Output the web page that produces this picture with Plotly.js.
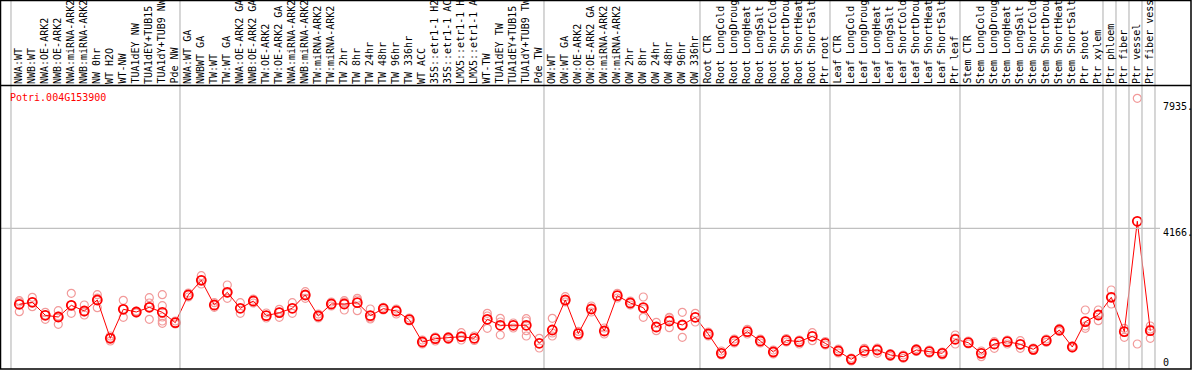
<!DOCTYPE html>
<html>
<head>
<meta charset="utf-8">
<script src="https://cdn.plot.ly/plotly-3.0.1.min.js"></script>
<style>html,body{margin:0;padding:0;background:#fff;}#chart{width:1194px;height:370px;}</style>
</head>
<body>
<div id="chart"></div>
<script>
var geneName = "Potri.004G153900";
var categories = [
 "NWA:WT","NWB:WT","NWA:OE-ARK2","NWB:OE-ARK2","NWA:miRNA-ARK2","NWB:miRNA-ARK2","NW 0hr","WT H2O","WT-NW","TUA1dEY NW","TUA1dEY+TUB15 NW","TUA1dY+TUB9 NW","Pde NW",
 "NWA:WT GA","NWBWT GA","TW:WT","TW:WT GA","NWA:OE-ARK2 GA","NWB:OE-ARK2 GA","TW:OE-ARK2","TW:OE-ARK2 GA","NWA:miRNA-ARK2","NWB:miRNA-ARK2","TW:miRNA-ARK2","TW:miRNA-ARK2 GA","TW 2hr","TW 8hr","TW 24hr","TW 48hr","TW 96hr","TW 336hr","WT ACC","35S::etr1-1 H2O","35S::etr1-1 ACC","LMX5::etr1-1 H2O","LMX5::etr1-1 ACC","WT-TW","TUA1dEY TW","TUA1dEY+TUB15 TW","TUA1dY+TUB9 TW","Pde TW",
 "OW:WT","OW:WT GA","OW:OE-ARK2","OW:OE-ARK2 GA","OW:miRNA-ARK2","OW:miRNA-ARK2 GA","OW 2hr","OW 8hr","OW 24hr","OW 48hr","OW 96hr","OW 336hr",
 "Root CTR","Root LongCold","Root LongDrought","Root LongHeat","Root LongSalt","Root ShortCold","Root ShortDrought","Root ShortHeat","Root ShortSalt","Ptr root",
 "Leaf CTR","Leaf LongCold","Leaf LongDrought","Leaf LongHeat","Leaf LongSalt","Leaf ShortCold","Leaf ShortDrought","Leaf ShortHeat","Leaf ShortSalt","Ptr leaf",
 "Stem CTR","Stem LongCold","Stem LongDrought","Stem LongHeat","Stem LongSalt","Stem ShortCold","Stem ShortDrought","Stem ShortHeat","Stem ShortSalt","Ptr shoot","Ptr xylem",
 "Ptr phloem","Ptr fiber","Ptr vessel","Ptr fiber vessel"
];
var groupSizes = [13, 28, 12, 10, 10, 11, 1, 1, 1, 1];
var meanValues = [
 1963,2021,1644,1595,1934,1769,2088,977,1818,1740,1876,1731,1430,
 2233,2659,1943,2311,1847,2059,1633,1720,1847,2233,1624,1972,1972,2010,1633,1836,1769,1517,870,966,986,1024,977,1528,1354,1354,1354,832,
 1218,2088,1111,1827,1189,2213,2001,1865,1305,1479,1363,1586,
 1102,542,899,1169,899,580,919,879,1035,832,
 609,368,618,638,493,444,638,589,542,948,
 850,542,812,879,803,658,908,1218,725,1459,1653,
 2166,1169,4370,1198
];
var replicateValues = [
 [2068,1749,2030],[2166,1894,2030],[1731,1528,1653],[1778,1383,1624],[2282,1702,1943],[1943,1653,1740],[2242,1865,2146],[899,986,1044],[2079,1586,1827],[1769,1711,1740],[2155,1528,2001,1885],[2242,1923,1479,1412,1595],[1479,1392],
 [2291,2175],[2793,2552,2668],[2010,1876],[2523,2137,2291],[2010,1702],[2117,2001],[1711,1566],[1818,1586,1740],[2010,1702],[2329,2137,2233],[1682,1566],[2030,1914],[2068,1798,2030],[2137,1778,2088],[1827,1537,1566],[1876,1798],[1827,1682],[1566,1479],[928,812],[1015,899],[1030,943],[1140,928,1015],[1044,914],[1702,1267,1624],[1557,1073,1450],[1421,1276],[1546,1479,1198,1044],[977,696],
 [1557,1044,1131],[2184,2030],[1175,1044],[1914,1740],[1276,1102],[2282,2146],[2059,1943],[2175,1586,1827],[1441,1198],[1586,1285,1566],[1731,1006,1363],[1702,1450],
 [1160,1044],[609,493],[957,841],[1238,1102],[957,841],[638,522],[972,870],[928,812],[1140,908],[885,783],
 [667,551],[406,319],[687,542],[696,542],[537,450],[493,397],[682,595],[638,542],[580,493],[1073,812,986],
 [899,812],[609,444],[879,687],[928,812],[908,687],[696,624],[957,861],[1262,1175],[754,696],[1798,1267,1334],[1798,1488,1682],
 [2378,1972,2175],[1267,1006],[7935,812],[1334,977,1247]
];
var scaleLabels = ["7935.", "4166.", "0"];
var scaleValues = [7935, 4166, 0];
var maxLabelChars = 14;

var W = 1194, H = 370;
var x0px = 19.3, step = 13;
var xr = [-x0px/step, (W - x0px)/step];
var yZero = 372, yScale = 0.03449;
var yr = [(yZero - H)/yScale, yZero/yScale];
function py(p){ return 1 - p/H; }
function px(p){ return p/W; }

var idx = categories.map(function(_, i){ return i; });
var repX = [], repY = [];
replicateValues.forEach(function(arr, i){ arr.forEach(function(v){ repX.push(i); repY.push(v); }); });

var traces = [
 {x: repX, y: repY, type: 'scatter', mode: 'markers', hoverinfo: 'skip',
  marker: {symbol: 'circle-open', size: 8, color: '#f29a9a', line: {width: 1.2, color: '#f29a9a'}}},
 {x: idx, y: meanValues, type: 'scatter', mode: 'lines+markers',
  line: {color: '#ff0000', width: 1},
  marker: {symbol: 'circle-open', size: 9, color: '#ff0000', line: {width: 1.8, color: '#ff0000'}}}
];

var shapes = [];
var b = 0;
var bounds = [0];
groupSizes.forEach(function(g){ b += g; bounds.push(b); });
bounds.forEach(function(k){
  shapes.push({type: 'line', xref: 'x', yref: 'paper', x0: k - 0.64, x1: k - 0.64, y0: py(369), y1: 1,
    line: {color: '#c0c0c0', width: 1.3}});
});
shapes.push({type: 'line', xref: 'paper', yref: 'y', x0: 0, x1: px(1160), y0: scaleValues[1], y1: scaleValues[1],
  line: {color: '#c0c0c0', width: 1.3}});
shapes.push({type: 'rect', xref: 'paper', yref: 'paper', x0: px(0.5), x1: px(1191), y0: py(369), y1: py(0.5),
  line: {color: '#000', width: 1.5}});
shapes.push({type: 'line', xref: 'paper', yref: 'paper', x0: 0, x1: px(1191), y0: py(85.5), y1: py(85.5),
  line: {color: '#000', width: 1.5}});

var annotations = categories.map(function(c, i){
  return {x: i - 0.1, xref: 'x', y: py(85), yref: 'paper', text: c.slice(0, maxLabelChars), textangle: -90,
    xanchor: 'center', yanchor: 'bottom', showarrow: false, borderpad: 0,
    font: {family: 'DejaVu Sans Mono', size: 10, color: '#000'}};
});
annotations.push({x: px(9), xref: 'paper', y: py(97), yref: 'paper', text: geneName, xanchor: 'left', yanchor: 'middle',
  showarrow: false, borderpad: 0, font: {family: 'DejaVu Sans Mono', size: 10, color: '#ff0000'}});
var labelY = [107, 232, 362];
scaleLabels.forEach(function(t, k){
  annotations.push({x: px(1162), xref: 'paper', y: py(labelY[k]), yref: 'paper', text: t, xanchor: 'left', yanchor: 'middle',
    showarrow: false, borderpad: 0, font: {family: 'DejaVu Sans Mono', size: 10, color: '#000'}});
});

var layout = {
  width: W, height: H,
  margin: {l: 0, r: 0, t: 0, b: 0},
  paper_bgcolor: '#fff', plot_bgcolor: '#fff',
  showlegend: false,
  xaxis: {range: xr, showgrid: false, zeroline: false, showticklabels: false, ticks: '', showline: false},
  yaxis: {range: yr, showgrid: false, zeroline: false, showticklabels: false, ticks: '', showline: false},
  shapes: shapes,
  annotations: annotations
};
Plotly.newPlot('chart', traces, layout, {staticPlot: true, displayModeBar: false});
</script>
</body>
</html>
